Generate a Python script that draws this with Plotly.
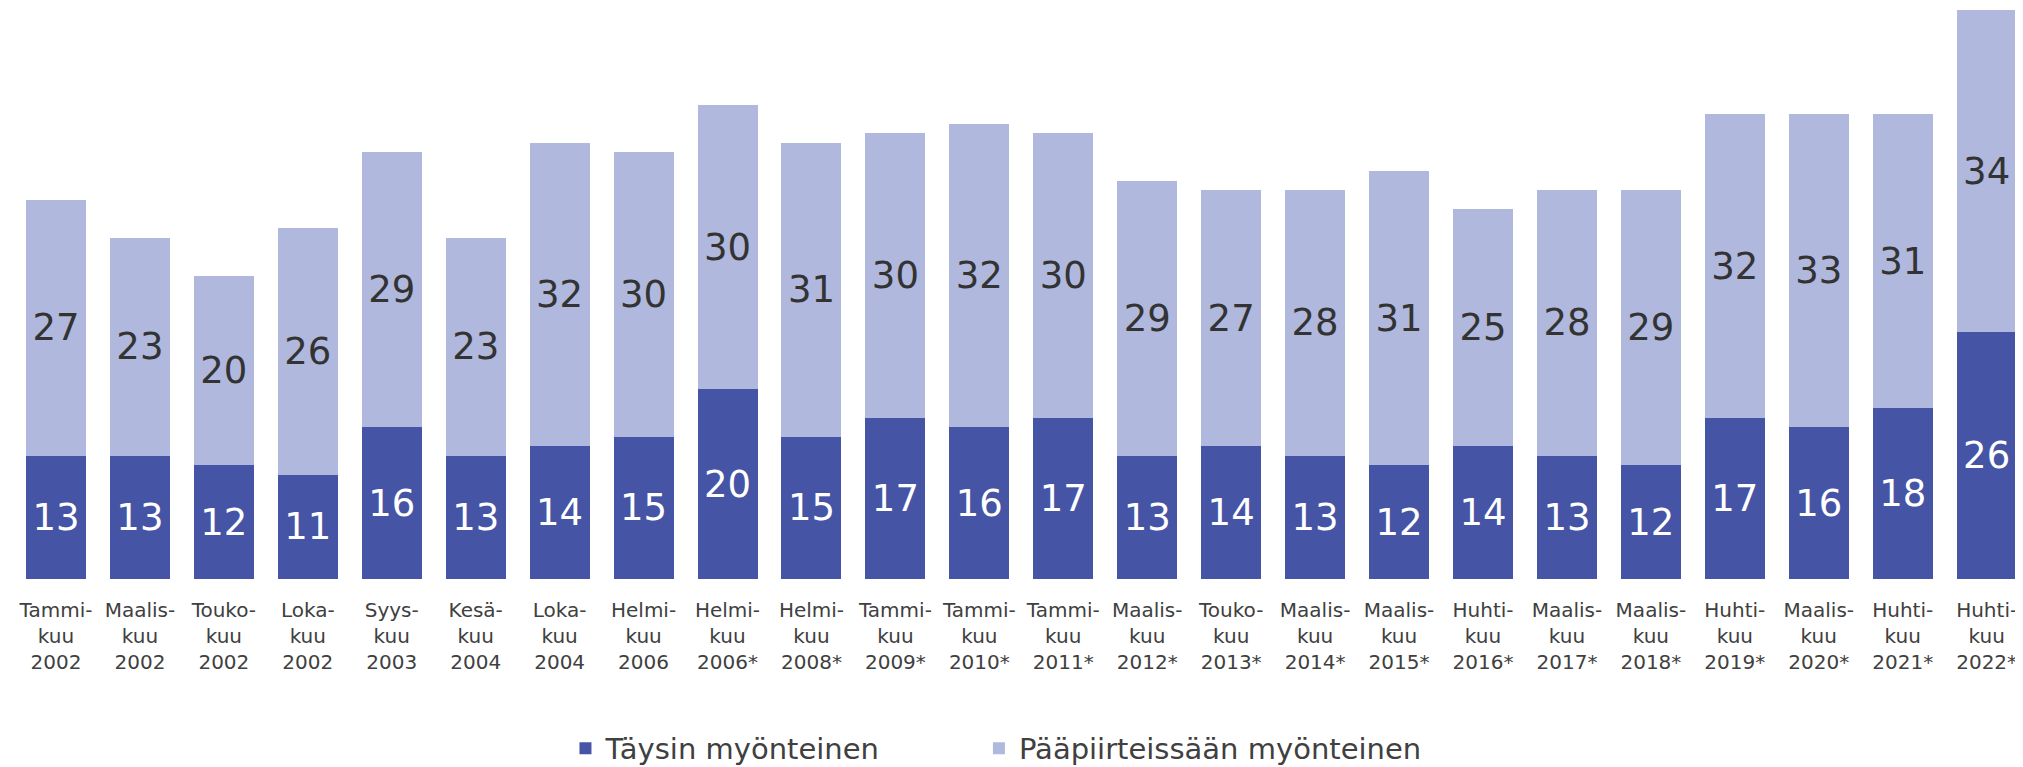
import plotly.graph_objects as go

months = ["Tammi-", "Maalis-", "Touko-", "Loka-", "Syys-", "Kesä-", "Loka-", "Helmi-",
          "Helmi-", "Helmi-", "Tammi-", "Tammi-", "Tammi-", "Maalis-", "Touko-", "Maalis-",
          "Maalis-", "Huhti-", "Maalis-", "Maalis-", "Huhti-", "Maalis-", "Huhti-", "Huhti-"]
years = ["2002", "2002", "2002", "2002", "2003", "2004", "2004", "2006",
         "2006*", "2008*", "2009*", "2010*", "2011*", "2012*", "2013*", "2014*",
         "2015*", "2016*", "2017*", "2018*", "2019*", "2020*", "2021*", "2022*"]
taysin = [13, 13, 12, 11, 16, 13, 14, 15, 20, 15, 17, 16, 17, 13, 14, 13, 12, 14, 13, 12, 17, 16, 18, 26]
paapiirteissaan = [27, 23, 20, 26, 29, 23, 32, 30, 30, 31, 30, 32, 30, 29, 27, 28, 31, 25, 28, 29, 32, 33, 31, 34]

labels = [f"{m}<br>kuu<br>{y}" for m, y in zip(months, years)]
x = list(range(len(labels)))

FONT = "DejaVu Sans, Verdana, sans-serif"
DARK = "#4654A5"
PALE = "#B0B8DD"

fig = go.Figure()
fig.add_trace(go.Bar(
    x=x, y=taysin, name="Täysin myönteinen", legend="legend",
    marker=dict(color=DARK, line=dict(width=0)),
    text=taysin, textposition="inside", insidetextanchor="middle",
    textangle=0, constraintext="none",
    textfont=dict(family=FONT, size=37, color="white"),
    hoverinfo="skip",
))
fig.add_trace(go.Bar(
    x=x, y=paapiirteissaan, name="Pääpiirteissään myönteinen", legend="legend2",
    marker=dict(color=PALE, line=dict(width=0)),
    text=paapiirteissaan, textposition="inside", insidetextanchor="middle",
    textangle=0, constraintext="none",
    textfont=dict(family=FONT, size=37, color="#333333"),
    hoverinfo="skip",
))

legend_common = dict(
    orientation="h", xanchor="left", y=-0.2975, yanchor="middle",
    font=dict(family=FONT, size=29, color="#404040"),
    bgcolor="rgba(0,0,0,0)",
)

fig.update_layout(
    barmode="stack",
    bargap=0.285,
    width=2015, height=759,
    margin=dict(l=6, r=0, t=2, b=188, autoexpand=False),
    paper_bgcolor="white", plot_bgcolor="white",
    font=dict(family=FONT, color="#404040"),
    showlegend=True,
    legend=dict(x=0.2745, **legend_common),
    legend2=dict(x=0.4803, **legend_common),
    xaxis=dict(
        range=[-0.5, 23.433], tickmode="array", tickvals=x, ticktext=labels,
        showgrid=False, zeroline=False, showline=False, ticks="",
        tickfont=dict(family=FONT, size=20, color="#404040"), tickangle=0,
        ticklabelstandoff=17,
    ),
    yaxis=dict(range=[0, 60], visible=False, showgrid=False, zeroline=False),
)

fig.write_html("out.html")
